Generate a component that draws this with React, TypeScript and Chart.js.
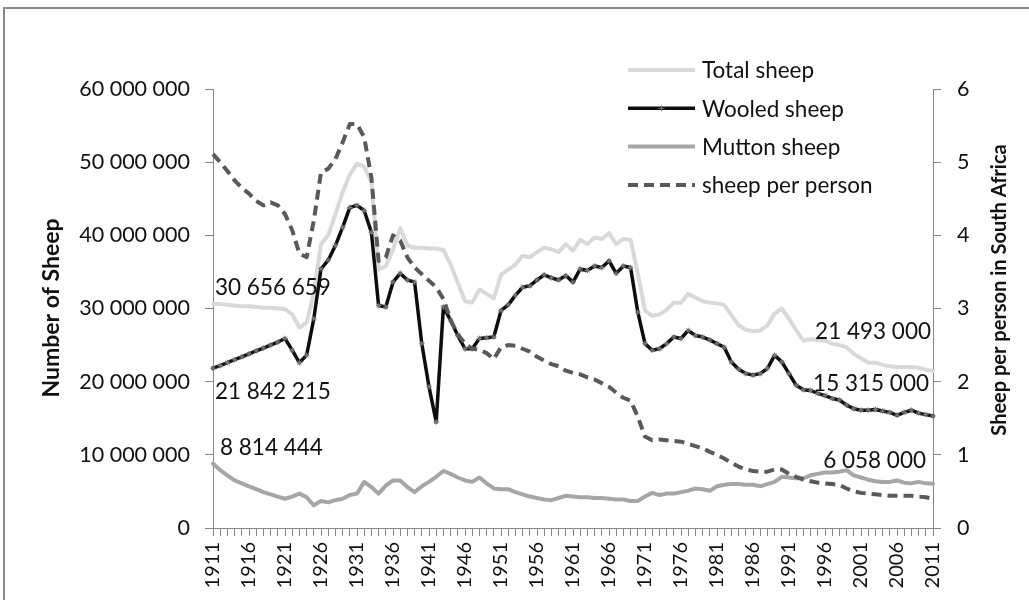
import React, { useEffect, useRef } from "react";
import { Chart, registerables } from "chart.js";

Chart.register(...registerables);

const years: string[] = [
  "1911","1912","1913","1914","1915","1916","1917","1918","1919","1920",
  "1921","1922","1923","1924","1925","1926","1927","1928","1929","1930",
  "1931","1932","1933","1934","1935","1936","1937","1938","1939","1940",
  "1941","1942","1943","1944","1945","1946","1947","1948","1949","1950",
  "1951","1952","1953","1954","1955","1956","1957","1958","1959","1960",
  "1961","1962","1963","1964","1965","1966","1967","1968","1969","1970",
  "1971","1972","1973","1974","1975","1976","1977","1978","1979","1980",
  "1981","1982","1983","1984","1985","1986","1987","1988","1989","1990",
  "1991","1992","1993","1994","1995","1996","1997","1998","1999","2000",
  "2001","2002","2003","2004","2005","2006","2007","2008","2009","2010",
  "2011",
];

// millions of sheep
const totalSheep: number[] = [
  30.656659, 30.6, 30.5, 30.4, 30.3, 30.3, 30.2, 30.1, 30.1, 30.0,
  29.9, 29.2, 27.4, 28.1, 32.0, 38.8, 40.0, 42.9, 45.9, 48.3,
  49.8, 49.4, 47.3, 35.3, 35.8, 38.0, 41.0, 38.6, 38.3, 38.3,
  38.2, 38.2, 38.0, 36.0, 33.5, 31.0, 30.8, 32.6, 32.0, 31.4,
  34.6, 35.3, 36.0, 37.2, 37.0, 37.7, 38.3, 38.1, 37.7, 38.8,
  37.9, 39.4, 38.8, 39.7, 39.5, 40.3, 38.8, 39.5, 39.4, 34.8,
  29.7, 29.0, 29.2, 29.8, 30.8, 30.8, 32.0, 31.5, 31.0, 30.8,
  30.7, 30.5, 29.1, 27.7, 27.1, 26.9, 27.0, 27.7, 29.3, 30.0,
  28.6, 27.0, 25.6, 25.8, 25.7, 25.6, 25.2, 25.0, 24.7, 23.8,
  23.2, 22.6, 22.6, 22.3, 22.1, 22.0, 22.0, 22.0, 21.9, 21.6,
  21.493,
];

const wooledSheep: number[] = [
  21.842215, 22.2, 22.6, 23.0, 23.4, 23.8, 24.2, 24.6, 25.0, 25.4,
  25.9, 24.3, 22.6, 23.6, 28.6, 35.4, 36.6, 38.6, 41.1, 43.8,
  44.1, 43.4, 40.4, 30.4, 30.2, 33.6, 34.8, 33.9, 33.6, 25.2,
  19.3, 14.5, 30.2, 28.4, 26.3, 24.5, 24.5, 25.9, 26.0, 26.1,
  29.7, 30.5, 31.8, 32.9, 33.1, 33.9, 34.6, 34.2, 33.9, 34.5,
  33.6, 35.4, 35.2, 35.8, 35.6, 36.5, 34.8, 35.8, 35.6, 29.5,
  25.2, 24.3, 24.5, 25.2, 26.1, 25.9, 27.0, 26.3, 26.1, 25.7,
  25.2, 24.7, 22.7, 21.7, 21.1, 20.9, 21.1, 21.8, 23.6, 22.7,
  21.1, 19.5, 18.9, 18.8, 18.4, 18.1, 17.7, 17.5, 16.8, 16.3,
  16.1, 16.1, 16.2, 16.0, 15.8, 15.4, 15.8, 16.1, 15.7, 15.5,
  15.315,
];

const muttonSheep: number[] = [
  8.814444, 7.9, 7.2, 6.5, 6.1, 5.7, 5.3, 4.9, 4.6, 4.3,
  4.0, 4.3, 4.7, 4.2, 3.1, 3.7, 3.5, 3.8, 4.0, 4.5,
  4.7, 6.3, 5.6, 4.7, 5.8, 6.5, 6.5, 5.6, 4.9, 5.7,
  6.3, 7.0, 7.8, 7.4, 6.9, 6.5, 6.3, 6.9, 6.1, 5.4,
  5.3, 5.3, 4.9, 4.6, 4.3, 4.1, 3.9, 3.8, 4.1, 4.4,
  4.3, 4.2, 4.2, 4.1, 4.1, 4.0, 3.9, 3.9, 3.7, 3.7,
  4.3, 4.8, 4.5, 4.7, 4.7, 4.9, 5.1, 5.4, 5.3, 5.1,
  5.7, 5.9, 6.0, 6.0, 5.9, 5.9, 5.7, 6.0, 6.3, 7.0,
  6.9, 6.8, 6.8, 7.2, 7.4, 7.6, 7.6, 7.7, 7.9, 7.2,
  6.9, 6.6, 6.4, 6.3, 6.3, 6.5, 6.2, 6.1, 6.3, 6.1,
  6.058,
];

const sheepPerPerson: number[] = [
  5.11, 5.0, 4.88, 4.75, 4.65, 4.57, 4.47, 4.41, 4.45, 4.41,
  4.29, 4.07, 3.75, 3.70, 4.2, 4.86, 4.91, 5.04, 5.27, 5.52,
  5.52, 5.34, 4.79, 3.65, 3.70, 4.0, 3.93, 3.70, 3.56, 3.47,
  3.38, 3.29, 3.13, 2.84, 2.65, 2.52, 2.45, 2.44, 2.39, 2.31,
  2.47, 2.50, 2.49, 2.45, 2.41, 2.34, 2.29, 2.24, 2.21, 2.15,
  2.12, 2.10, 2.06, 2.03, 1.98, 1.93, 1.85, 1.78, 1.74, 1.52,
  1.25, 1.20, 1.21, 1.20, 1.19, 1.18, 1.15, 1.12, 1.09, 1.04,
  1.0, 0.95, 0.89, 0.84, 0.80, 0.78, 0.77, 0.77, 0.80, 0.80,
  0.74, 0.70, 0.66, 0.64, 0.62, 0.61, 0.60, 0.59, 0.54, 0.50,
  0.48, 0.47, 0.46, 0.45, 0.44, 0.44, 0.44, 0.44, 0.43, 0.42,
  0.40,
];

const seriesNames: string[] = ["Total sheep", "Wooled sheep", "Mutton sheep", "sheep per person"];
const leftTitle = "Number of Sheep";
const rightTitle = "Sheep per person in South Africa";

const FONT = "Lato, 'Open Sans', sans-serif";
const TEXT = "#111111";
const AXIS = "#868686";

const fmt = (n: number): string =>
  Math.round(n).toString().replace(/\B(?=(\d{3})+(?!\d))/g, " ");

const styles = [
  { color: "#d9d9d9", width: 4, dash: [] as number[], marker: false },
  { color: "#0d0d0d", width: 3.5, dash: [] as number[], marker: true },
  { color: "#a6a6a6", width: 4, dash: [] as number[], marker: false },
  { color: "#595959", width: 4, dash: [10, 6], marker: false },
];

const customPlugin = {
  id: "customDecor",
  beforeDraw(chart: any) {
    const { ctx, width, height } = chart;
    ctx.save();
    ctx.fillStyle = "#ffffff";
    ctx.fillRect(0, 0, width, height);
    ctx.strokeStyle = "#8a8a8a";
    ctx.lineWidth = 2;
    ctx.beginPath();
    ctx.moveTo(4, height + 10);
    ctx.lineTo(4, 8);
    ctx.lineTo(width + 10, 8);
    ctx.stroke();
    ctx.restore();
  },
  afterDraw(chart: any) {
    const { ctx } = chart;
    const xs = chart.scales.x;
    const yl = chart.scales.y;
    ctx.save();
    // axis titles
    ctx.fillStyle = TEXT;
    ctx.textAlign = "center";
    ctx.textBaseline = "middle";
    ctx.save();
    ctx.font = `bold 23px ${FONT}`;
    ctx.translate(52, 308);
    ctx.rotate(-Math.PI / 2);
    ctx.fillText(leftTitle, 0, 0);
    ctx.restore();
    ctx.save();
    ctx.font = `bold 20px ${FONT}`;
    ctx.translate(1000, 290);
    ctx.rotate(-Math.PI / 2);
    ctx.fillText(rightTitle, 0, 0);
    ctx.restore();

    // legend
    const lx0 = 628, lx1 = 695, ly0 = 70, lstep = 38.3;
    ctx.font = `22.5px ${FONT}`;
    ctx.textAlign = "left";
    seriesNames.forEach((name, i) => {
      const s = styles[i];
      const y = ly0 + i * lstep;
      ctx.save();
      ctx.strokeStyle = s.color;
      ctx.lineWidth = s.width;
      ctx.setLineDash(s.dash);
      ctx.beginPath();
      ctx.moveTo(lx0, y);
      ctx.lineTo(lx1, y);
      ctx.stroke();
      ctx.restore();
      if (s.marker) {
        ctx.save();
        ctx.strokeStyle = "#777";
        ctx.lineWidth = 1;
        const cx = (lx0 + lx1) / 2;
        ctx.beginPath();
        ctx.moveTo(cx, y - 3);
        ctx.lineTo(cx, y + 3);
        ctx.moveTo(cx - 3, y);
        ctx.lineTo(cx + 3, y);
        ctx.stroke();
        ctx.restore();
      }
      ctx.fillStyle = TEXT;
      ctx.fillText(name, 702, y + 1);
    });

    // data labels
    const first = 0;
    const last = years.length - 1;
    const xF = xs.getPixelForValue(first);
    const xL = xs.getPixelForValue(last);
    ctx.font = `22.5px ${FONT}`;
    ctx.fillStyle = TEXT;
    ctx.textAlign = "left";
    ctx.fillText(fmt(totalSheep[first] * 1e6), xF + 2, yl.getPixelForValue(totalSheep[first]) - 16);
    ctx.fillText(fmt(wooledSheep[first] * 1e6), xF + 2, yl.getPixelForValue(wooledSheep[first]) + 24);
    ctx.fillText(fmt(muttonSheep[first] * 1e6), xF + 7, yl.getPixelForValue(muttonSheep[first]) - 16);
    ctx.textAlign = "right";
    ctx.fillText(fmt(totalSheep[last] * 1e6), xL - 2, yl.getPixelForValue(totalSheep[last]) - 39);
    ctx.fillText(fmt(wooledSheep[last] * 1e6), xL - 4, yl.getPixelForValue(wooledSheep[last]) - 32);
    ctx.fillText(fmt(muttonSheep[last] * 1e6), xL - 7, yl.getPixelForValue(muttonSheep[last]) - 23);
    ctx.restore();
  },
};

export default function App() {
  const canvasRef = useRef<HTMLCanvasElement | null>(null);

  useEffect(() => {
    const canvas = canvasRef.current;
    if (!canvas) return;
    const mk = (i: number, data: number[], axis: string, order: number) => {
      const s = styles[i];
      return {
        label: seriesNames[i],
        data,
        yAxisID: axis,
        borderColor: s.color,
        backgroundColor: s.color,
        borderWidth: s.width,
        borderDash: s.dash,
        borderJoinStyle: "round" as const,
        borderCapStyle: (s.dash.length ? "butt" : "round") as any,
        tension: 0,
        fill: false,
        order,
        pointRadius: s.marker ? 2.8 : 0,
        pointStyle: s.marker ? "star" : "circle",
        pointBorderColor: "#7a7a7a",
        pointBackgroundColor: "#7a7a7a",
        pointBorderWidth: 1,
        pointHoverRadius: 0,
      };
    };
    const chart = new Chart(canvas, {
      type: "line",
      data: {
        labels: years,
        datasets: [
          mk(0, totalSheep, "y", 3),
          mk(1, wooledSheep, "y", 2),
          mk(2, muttonSheep, "y", 1),
          mk(3, sheepPerPerson, "y1", 0),
        ],
      },
      options: {
        responsive: false,
        animation: false,
        layout: { padding: { top: 89, left: 0, right: 0, bottom: 0 } },
        plugins: {
          legend: { display: false },
          tooltip: { enabled: false },
        },
        scales: {
          x: {
            type: "category",
            offset: false,
            grid: {
              display: true,
              drawOnChartArea: false,
              drawTicks: true,
              tickLength: 8,
              color: AXIS,
            },
            border: { display: true, color: AXIS },
            ticks: {
              autoSkip: false,
              minRotation: 90,
              maxRotation: 90,
              padding: 6,
              color: TEXT,
              font: { family: FONT, size: 20 },
              callback: (_v: any, i: number) => ((i % 5 === 0) ? years[i] : ""),
            },
            afterFit: (scale: any) => {
              scale.height = 72;
            },
          },
          y: {
            type: "linear",
            position: "left",
            min: 0,
            max: 60,
            grid: {
              display: true,
              drawOnChartArea: false,
              drawTicks: true,
              tickLength: 8,
              color: AXIS,
            },
            border: { display: true, color: AXIS },
            ticks: {
              stepSize: 10,
              padding: 15,
              color: TEXT,
              font: { family: FONT, size: 21.5 },
              callback: (v: any) => fmt(Number(v) * 1e6),
            },
            afterFit: (scale: any) => {
              scale.width = 213;
            },
          },
          y1: {
            type: "linear",
            position: "right",
            min: 0,
            max: 6,
            grid: {
              display: true,
              drawOnChartArea: false,
              drawTicks: true,
              tickLength: 8,
              color: AXIS,
            },
            border: { display: true, color: AXIS },
            ticks: {
              stepSize: 1,
              padding: 16,
              color: TEXT,
              font: { family: FONT, size: 21.5 },
            },
            afterFit: (scale: any) => {
              scale.width = 96;
            },
          },
        },
      },
      plugins: [customPlugin],
    });
    return () => chart.destroy();
  }, []);

  return (
    <div style={{ position: "fixed", left: 0, top: 0, width: 1029, height: 600, background: "#fff" }}>
      <canvas ref={canvasRef} width={1029} height={600} style={{ display: "block", width: 1029, height: 600 }} />
    </div>
  );
}
